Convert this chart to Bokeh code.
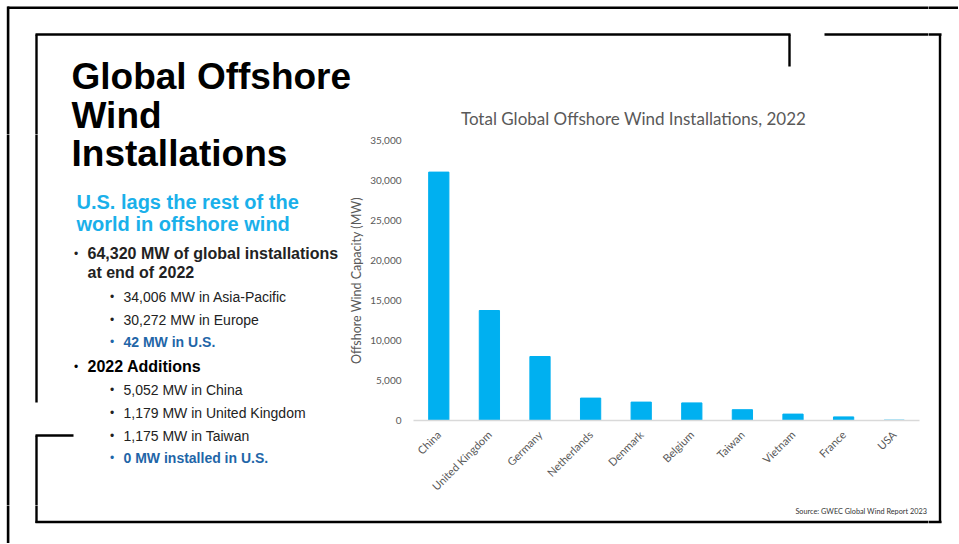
from bokeh.plotting import figure
from bokeh.layouts import row, column
from bokeh.models import Range1d, FactorRange, NumeralTickFormatter, FixedTicker
from bokeh.core.properties import value
from bokeh.embed import file_html
from bokeh.resources import INLINE
import math

# ---------------- data ----------------
countries = ["China", "United Kingdom", "Germany", "Netherlands", "Denmark",
             "Belgium", "Taiwan", "Vietnam", "France", "USA"]
capacity_mw = [31050, 13750, 8000, 2800, 2300, 2200, 1350, 800, 450, 42]
y_ticks = [0, 5000, 10000, 15000, 20000, 25000, 30000, 35000]

chart_title = "Total Global Offshore Wind Installations, 2022"
y_label = "Offshore Wind Capacity (MW)"
source_note = "Source: GWEC Global Wind Report 2023"
slide_title = ["Global Offshore", "Wind", "Installations"]
subtitle = ["U.S. lags the rest of the", "world in offshore wind"]
bullet_texts = ["64,320 MW of global installations", "at end of 2022",
                "34,006 MW in Asia-Pacific", "30,272 MW in Europe", "42 MW in U.S.",
                "2022 Additions", "5,052 MW in China", "1,179 MW in United Kingdom",
                "1,175 MW in Taiwan", "0 MW installed in U.S."]

# ---------------- style / layout ----------------
CHART_FONT = "Lato"
SLIDE_FONT = "Liberation Sans"
GRAY = "#595959"
CYAN = "#00B0F0"
SUB_CYAN = "#1AB0EA"
DARK = "#222222"
BLUE = "#1F66A8"

TOTAL_W, TOTAL_H = 958, 543
TOP_H = 134          # top strip height
MID_BOT = 505        # bottom of middle row
LEFT_W = 340         # left text panel width (middle row)
RIGHT_X = 928        # start of right strip
FL, FR, FT, FB = 413, 919, 140, 420   # chart frame in page pixels

# slide frame rectangles (page pixels): (x0, x1, y0, y1)
T = 2.4
frame_rects = [
    (7, TOTAL_W, 6, 8.6),            # outer top
    (6.3, 8.9, 6, TOTAL_H),          # outer left
    (35, 790, 34 - T / 2, 34 + T / 2),
    (789 - T / 2, 789 + T / 2, 34, 66),
    (824, 941, 34 - T / 2, 34 + T / 2),
    (939.5 - T / 2, 939.5 + T / 2, 34, 522.5),
    (35, 941, 521.5 - T / 2, 521.5 + T / 2),
    (36 - T / 2, 36 + T / 2, 34, 402),
    (35, 73, 435 - T / 2, 435 + T / 2),
    (36 - T / 2, 36 + T / 2, 435, 522.5),
]


def aux(x0, x1, y0, y1):
    f = figure(width=x1 - x0, height=y1 - y0,
               x_range=Range1d(x0, x1), y_range=Range1d(y1, y0),
               output_backend="svg", toolbar_location=None, min_border=0,
               x_axis_location=None, y_axis_location=None)
    f.outline_line_color = None
    f.background_fill_color = "white"
    f.border_fill_color = "white"
    f.grid.visible = False
    f.quad(left=[r[0] for r in frame_rects], right=[r[1] for r in frame_rects],
           top=[r[2] for r in frame_rects], bottom=[r[3] for r in frame_rects],
           fill_color="black", line_color=None)
    return f


def txt(f, x, y, text, size, color="black", style="normal", font=SLIDE_FONT,
        align="left"):
    f.text(x=[x], y=[y], text=[text], text_font=value(font), text_font_size=value(size),
           text_font_style=style, text_color=color, text_align=align,
           text_baseline="alphabetic")


# ---------------- top strip: slide title (first lines) + chart title ----------------
top = aux(0, RIGHT_X, 0, TOP_H)

# ---------------- left text panel ----------------
left = aux(0, LEFT_W, TOP_H, MID_BOT)

title_y = [76, 114.5, 153]
for line, y in zip(slide_title, title_y):
    f = top if y < TOP_H - 10 else left
    txt(f, 71, y, line, "37px", style="bold")
txt(top, 633, 118, chart_title, "17px", color=GRAY, font=CHART_FONT, align="center")

for i, line in enumerate(subtitle):
    txt(left, 76, 201 + i * 22, line, "20px", color=SUB_CYAN, style="bold")

# (level, y, bold, color) for each bullet text
bullet_fmt = [(1, 253, True, DARK), (0, 272, True, DARK), (2, 296, False, DARK),
              (2, 319, False, DARK), (2, 341, True, BLUE), (1, 366, True, "black"),
              (2, 389, False, DARK), (2, 412, False, DARK), (2, 435, False, DARK),
              (2, 457, True, BLUE)]
for text, (lvl, y, bold, color) in zip(bullet_texts, bullet_fmt):
    style = "bold" if bold else "normal"
    if lvl in (0, 1):
        size, tx, bx = "16px", 87, 73.5
    else:
        size, tx, bx = "14px", 123, 109.5
    if lvl != 0:
        txt(left, bx, y, "\u2022", "12px", color=color)
    txt(left, tx, y, text, size, color=color, style=style)

# ---------------- chart ----------------
cw, ch = RIGHT_X - LEFT_W, MID_BOT - TOP_H
p = figure(width=cw, height=ch,
           x_range=FactorRange(*countries, range_padding=0),
           y_range=Range1d(0, 35000),
           output_backend="svg", toolbar_location=None,
           min_border_left=FL - LEFT_W, min_border_right=RIGHT_X - FR,
           min_border_top=FT - TOP_H, min_border_bottom=MID_BOT - FB)
p.outline_line_color = None
p.background_fill_color = "white"
p.border_fill_color = "white"
p.xgrid.visible = False
p.ygrid.visible = False

p.vbar(x=countries, top=capacity_mw, width=0.4, fill_color=CYAN, line_color=CYAN)

p.yaxis.ticker = FixedTicker(ticks=y_ticks)
p.yaxis.formatter = NumeralTickFormatter(format="0,0")
p.yaxis.axis_line_color = None
p.yaxis.major_tick_line_color = None
p.yaxis.minor_tick_line_color = None
p.yaxis.major_label_standoff = 6
p.yaxis.major_label_text_font = CHART_FONT
p.yaxis.major_label_text_font_size = "10px"
p.yaxis.major_label_text_color = GRAY
p.yaxis.axis_label = y_label
p.yaxis.axis_label_text_font = CHART_FONT
p.yaxis.axis_label_text_font_size = "12.5px"
p.yaxis.axis_label_text_font_style = "normal"
p.yaxis.axis_label_text_color = GRAY
p.yaxis.axis_label_standoff = 3

p.xaxis.axis_line_color = "#D9D9D9"
p.xaxis.axis_line_width = 1.5
p.xaxis.major_tick_line_color = None
p.xaxis.minor_tick_line_color = None
p.xaxis.major_label_orientation = math.pi / 4
p.xaxis.major_label_standoff = 6
p.xaxis.major_label_text_font = CHART_FONT
p.xaxis.major_label_text_font_size = "11px"
p.xaxis.major_label_text_color = GRAY

# ---------------- bottom strip & right strip ----------------
bottom = aux(0, RIGHT_X, MID_BOT, TOTAL_H)
right = aux(RIGHT_X, TOTAL_W, 0, TOTAL_H)
txt(bottom, 926.5, 511, source_note, "7.3px", color="#333333", font=CHART_FONT, align="right")

# wrap plots in columns so that their frames are not aligned with each other
layout = row(column(top, row(column(left), column(p)), bottom), column(right))

open("out.html", "w").write(file_html(layout, INLINE))
